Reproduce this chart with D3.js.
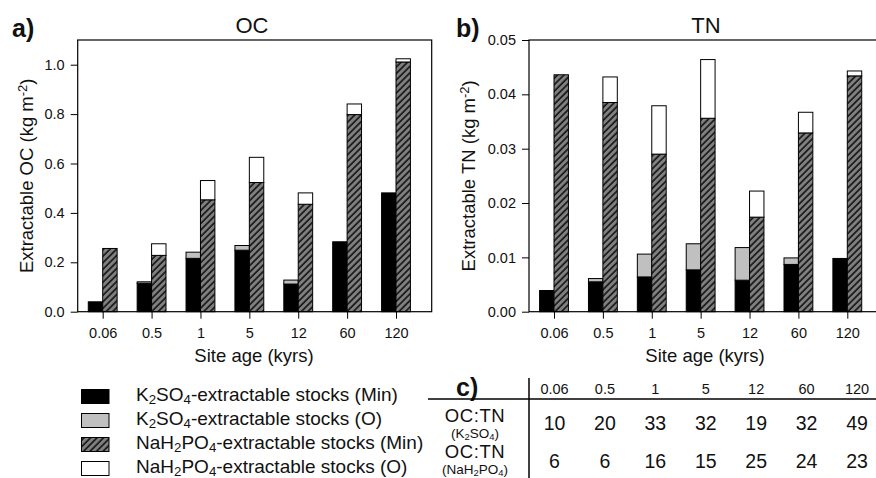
<!DOCTYPE html>
<html>
<head>
<meta charset="utf-8">
<script src="https://cdn.jsdelivr.net/npm/d3@7"></script>
<style>
  html, body { margin: 0; padding: 0; background: #fff; }
  svg { display: block; font-family: Arial, "Liberation Sans", sans-serif; }
</style>
</head>
<body>
<svg id="chart" width="876" height="478"></svg>
<script>
// ---------- data ----------
const ages = ["0.06", "0.5", "1", "5", "12", "60", "120"];

const ocK2Min = [0.040, 0.115, 0.216, 0.249, 0.112, 0.283, 0.481];
const ocK2O   = [0, 0.006, 0.025, 0.019, 0.016, 0, 0];
const ocNaMin = [0.256, 0.228, 0.453, 0.523, 0.435, 0.798, 1.011];
const ocNaO   = [0, 0.047, 0.078, 0.102, 0.046, 0.043, 0.013];

const tnK2Min = [0.0039, 0.0055, 0.0064, 0.0077, 0.0058, 0.0087, 0.0098];
const tnK2O   = [0, 0.0006, 0.0042, 0.0048, 0.0060, 0.0012, 0];
const tnNaMin = [0.0436, 0.0385, 0.0290, 0.0356, 0.0174, 0.0329, 0.0434];
const tnNaO   = [0, 0.0047, 0.0089, 0.0108, 0.0048, 0.0038, 0.0009];

const ratioK2 = [10, 20, 33, 32, 19, 32, 49];
const ratioNa = [6, 6, 16, 15, 25, 24, 23];

const ocTicks = [0, 0.2, 0.4, 0.6, 0.8, 1.0];
const tnTicks = [0, 0.01, 0.02, 0.03, 0.04, 0.05];

// ---------- setup ----------
const svg = d3.select("#chart");
const defs = svg.append("defs");
const pat = defs.append("pattern")
  .attr("id", "hatch").attr("patternUnits", "userSpaceOnUse")
  .attr("width", 4.6).attr("height", 4.6)
  .attr("patternTransform", "rotate(45)");
pat.append("rect").attr("width", 4.6).attr("height", 4.6).attr("fill", "#808080");
pat.append("line").attr("x1", 1).attr("y1", 0).attr("x2", 1).attr("y2", 4.6)
  .attr("stroke", "#111").attr("stroke-width", 1.6);

const FILL = { k2min: "#000", k2o: "#c0c0c0", namin: "url(#hatch)", nao: "#fff" };

function addSubText(sel, parts) {
  parts.forEach(([t, type]) => {
    const ts = sel.append("tspan").text(t);
    if (type === "sub") ts.attr("font-size", "0.7em").attr("baseline-shift", "-25%");
    if (type === "sup") ts.attr("font-size", "0.7em").attr("baseline-shift", "45%");
  });
}

function panel(cfg) {
  const { left, right, top, bottom } = cfg;
  const g = svg.append("g");
  const x = d3.scalePoint().domain(ages).range([left + 25, right - 35.7]);
  const y = d3.scaleLinear().domain(cfg.yDomain).range([bottom, top]);
  const bw = x.step() * 0.295;

  ages.forEach((a, i) => {
    const cx = x(a);
    const segs = [
      { x0: cx - bw, v0: 0, v1: cfg.k2min[i], f: FILL.k2min },
      { x0: cx - bw, v0: cfg.k2min[i], v1: cfg.k2min[i] + cfg.k2o[i], f: FILL.k2o },
      { x0: cx, v0: 0, v1: cfg.namin[i], f: FILL.namin },
      { x0: cx, v0: cfg.namin[i], v1: cfg.namin[i] + cfg.nao[i], f: FILL.nao }
    ].filter(s => s.v1 > s.v0);
    g.selectAll(null).data(segs).enter().append("rect")
      .attr("x", s => s.x0).attr("width", bw)
      .attr("y", s => y(s.v1)).attr("height", s => y(s.v0) - y(s.v1))
      .attr("fill", s => s.f).attr("stroke", "#000").attr("stroke-width", 1);
  });

  g.append("rect").attr("x", left).attr("y", top)
    .attr("width", right - left).attr("height", bottom - top)
    .attr("fill", "none").attr("stroke", "#000").attr("stroke-width", 1.2);

  const ya = g.append("g").attr("transform", `translate(${left},0)`)
    .call(d3.axisLeft(y).tickValues(cfg.yTicks).tickFormat(d3.format(cfg.fmt))
      .tickSize(7).tickPadding(6));
  ya.select(".domain").remove();
  ya.selectAll("text").attr("font-size", 14.5).attr("fill", "#111")
    .attr("font-family", "Arial, 'Liberation Sans', sans-serif");

  const xa = g.append("g").attr("transform", `translate(0,${bottom})`)
    .call(d3.axisBottom(x).tickSize(7).tickPadding(9));
  xa.select(".domain").remove();
  xa.selectAll("text").attr("font-size", 14.5).attr("fill", "#111")
    .attr("font-family", "Arial, 'Liberation Sans', sans-serif");

  g.append("text").attr("x", cfg.titleX).attr("y", 33).attr("text-anchor", "middle")
    .attr("font-size", 22).attr("fill", "#111").text(cfg.title);
  g.append("text").attr("x", cfg.letterX).attr("y", 37)
    .attr("font-size", 25).attr("font-weight", "bold").attr("fill", "#111").text(cfg.letter);
  g.append("text").attr("x", cfg.xTitleX).attr("y", 362).attr("text-anchor", "middle")
    .attr("font-size", 18.5).attr("fill", "#111").text("Site age (kyrs)");
  const yl = g.append("text")
    .attr("transform", `translate(${cfg.yTitleX},${(top + bottom) / 2}) rotate(-90)`)
    .attr("text-anchor", "middle").attr("font-size", 18.5).attr("fill", "#111");
  addSubText(yl, [[`Extractable ${cfg.title} (kg m`, null], ["-2", "sup"], [")", null]]);
}

panel({
  left: 77.7, right: 431.7, top: 40, bottom: 311.7,
  yDomain: [0, 1.1], yTicks: ocTicks, fmt: ".1f",
  k2min: ocK2Min, k2o: ocK2O, namin: ocNaMin, nao: ocNaO,
  title: "OC", letter: "a)", titleX: 252, letterX: 12, xTitleX: 254, yTitleX: 33
});
panel({
  left: 529, right: 883, top: 40, bottom: 311.7,
  yDomain: [0, 0.05], yTicks: tnTicks, fmt: ".2f",
  k2min: tnK2Min, k2o: tnK2O, namin: tnNaMin, nao: tnNaO,
  title: "TN", letter: "b)", titleX: 706, letterX: 456, xTitleX: 705, yTitleX: 475
});

// ---------- legend ----------
const legendItems = [
  { f: FILL.k2min, parts: [["K", null], ["2", "sub"], ["SO", null], ["4", "sub"], ["-extractable stocks (Min)", null]] },
  { f: FILL.k2o, parts: [["K", null], ["2", "sub"], ["SO", null], ["4", "sub"], ["-extractable stocks (O)", null]] },
  { f: FILL.namin, parts: [["NaH", null], ["2", "sub"], ["PO", null], ["4", "sub"], ["-extractable stocks (Min)", null]] },
  { f: FILL.nao, parts: [["NaH", null], ["2", "sub"], ["PO", null], ["4", "sub"], ["-extractable stocks (O)", null]] }
];
const lg = svg.append("g");
legendItems.forEach((it, i) => {
  const yTop = 389.5 + i * 24;
  lg.append("rect").attr("x", 81.5).attr("y", yTop).attr("width", 27.5).attr("height", 14)
    .attr("fill", it.f).attr("stroke", "#000").attr("stroke-width", 1);
  const t = lg.append("text").attr("x", 136).attr("y", yTop + 11.5)
    .attr("font-size", 19).attr("fill", "#111");
  addSubText(t, it.parts);
});

// ---------- table ----------
const tg = svg.append("g");
const tx = d3.scalePoint().domain(ages).range([554.5, 857]);
tg.append("text").attr("x", 456).attr("y", 396).attr("font-size", 25)
  .attr("font-weight", "bold").attr("fill", "#111").text("c)");
tg.append("line").attr("x1", 529).attr("x2", 529).attr("y1", 378).attr("y2", 478)
  .attr("stroke", "#000").attr("stroke-width", 1.5);
tg.append("line").attr("x1", 428).attr("x2", 876).attr("y1", 399).attr("y2", 399)
  .attr("stroke", "#000").attr("stroke-width", 1.5);
tg.selectAll(".hdr").data(ages).enter().append("text")
  .attr("x", d => tx(d)).attr("y", 393.5).attr("text-anchor", "middle")
  .attr("font-size", 14.5).attr("fill", "#111").text(d => d);
tg.selectAll(".r1").data(ratioK2).enter().append("text")
  .attr("x", (d, i) => tx(ages[i])).attr("y", 429.5).attr("text-anchor", "middle")
  .attr("font-size", 19.5).attr("fill", "#111").text(d => d);
tg.selectAll(".r2").data(ratioNa).enter().append("text")
  .attr("x", (d, i) => tx(ages[i])).attr("y", 468).attr("text-anchor", "middle")
  .attr("font-size", 19.5).attr("fill", "#111").text(d => d);

const rowLabels = [
  { y1: 422, y2: 437.5, parts: [["(K", null], ["2", "sub"], ["SO", null], ["4", "sub"], [")", null]] },
  { y1: 458, y2: 473.5, parts: [["(NaH", null], ["2", "sub"], ["PO", null], ["4", "sub"], [")", null]] }
];
rowLabels.forEach(r => {
  tg.append("text").attr("x", 475).attr("y", r.y1).attr("text-anchor", "middle")
    .attr("font-size", 18.5).attr("letter-spacing", 0.6).attr("fill", "#111").text("OC:TN");
  const t = tg.append("text").attr("x", 475).attr("y", r.y2).attr("text-anchor", "middle")
    .attr("font-size", 13.5).attr("fill", "#111");
  addSubText(t, r.parts);
});
</script>
</body>
</html>
